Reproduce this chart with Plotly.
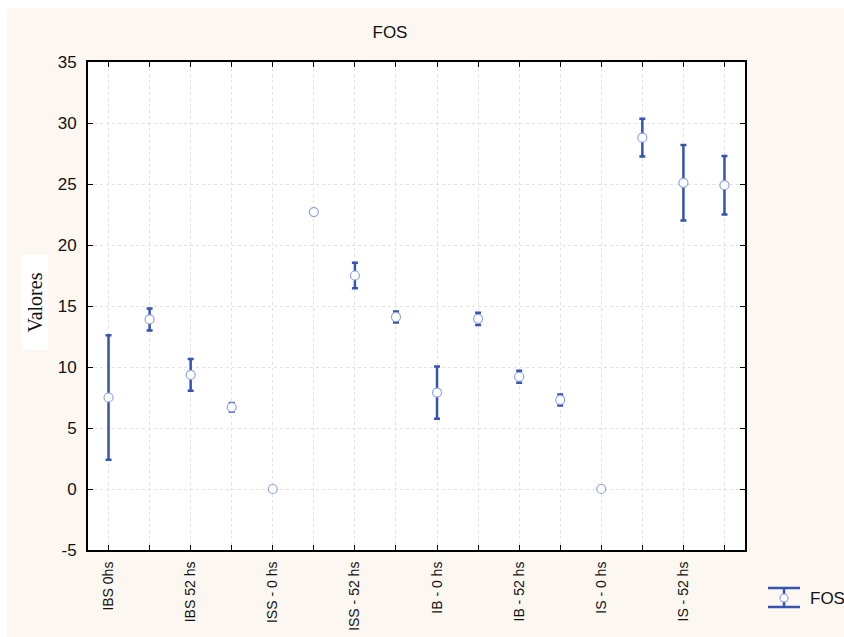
import plotly.graph_objects as go

labels = ["IBS 0hs", "", "IBS 52 hs", "", "ISS - 0 hs", "", "ISS - 52 hs", "",
          "IB - 0 hs", "", "IB - 52 hs", "", "IS - 0 hs", "", "IS - 52 hs", ""]
means = [7.5, 13.9, 9.35, 6.7, 0.0, 22.7, 17.5, 14.1, 7.9, 13.95, 9.2, 7.3, 0.0, 28.8, 25.1, 24.9]
errors = [5.1, 0.9, 1.3, 0.35, 0.0, 0.0, 1.05, 0.45, 2.15, 0.5, 0.5, 0.45, 0.0, 1.55, 3.1, 2.4]
yticks = [-5, 0, 5, 10, 15, 20, 25, 30, 35]
ytick_text = ["-5", "0", "5", "10", "15", "20", "25", "30", "35"]

xpos = list(range(len(means)))
bar_color = "#3553B0"
font_main = "Liberation Sans Narrow, Liberation Sans, Arial, sans-serif"

fig = go.Figure()
fig.add_trace(go.Scatter(
    x=xpos, y=means, mode="markers", name="FOS", showlegend=False,
    marker=dict(symbol="circle", size=9, color="white",
                line=dict(color="#8FA3E6", width=1.2)),
    error_y=dict(type="data", array=errors, visible=True, color=bar_color,
                 thickness=2.5, width=3),
))

fig.update_layout(
    width=844, height=637,
    margin=dict(l=88, r=99, t=62, b=87, autoexpand=False),
    paper_bgcolor="#FCF8F1",
    plot_bgcolor="white",
    title=dict(text="FOS", x=390 / 844, xanchor="center", y=1 - 32 / 637, yanchor="middle",
               font=dict(family=font_main, size=17, color="#111")),
    xaxis=dict(range=[-0.5, 15.5], tickmode="array", tickvals=xpos, ticktext=labels,
               tickangle=-90, ticks="inside", ticklen=5, tickcolor="black",
               ticklabelstandoff=4, automargin=False,
               showline=True, linecolor="black", linewidth=2, mirror="allticks",
               showgrid=True, gridcolor="#E2E2E2", griddash="dot", gridwidth=1,
               zeroline=False, tickfont=dict(family=font_main, size=14, color="#111")),
    yaxis=dict(range=[-5, 35], tickmode="array", tickvals=yticks, ticktext=ytick_text,
               ticks="inside", ticklen=5, tickcolor="black",
               ticklabelstandoff=6, automargin=False,
               showline=True, linecolor="black", linewidth=2, mirror="allticks",
               showgrid=True, gridcolor="#E2E2E2", griddash="dot", gridwidth=1,
               zeroline=False, tickfont=dict(family=font_main, size=17, color="#111")),
    shapes=[
        # white page strips (top and left)
        dict(type="rect", xref="paper", yref="paper", x0=-0.14, x1=1.16,
             y0=(550 - 8) / 488, y1=1.14, fillcolor="white", line=dict(width=0), layer="below"),
        dict(type="rect", xref="paper", yref="paper", x0=-0.14, x1=(7 - 88) / 657,
             y0=-0.2, y1=1.14, fillcolor="white", line=dict(width=0), layer="below"),
        # white box behind axis title
        dict(type="rect", xref="paper", yref="paper", x0=-0.1005, x1=-0.0609,
             y0=0.4098, y1=0.6045, fillcolor="white", line=dict(width=0), layer="below"),
        # legend symbol
        dict(type="line", xref="paper", yref="paper", x0=1.035, x1=1.0837, y0=-0.0779, y1=-0.0779,
             line=dict(color=bar_color, width=2.5)),
        dict(type="line", xref="paper", yref="paper", x0=1.035, x1=1.0837, y0=-0.1168, y1=-0.1168,
             line=dict(color=bar_color, width=2.5)),
        dict(type="line", xref="paper", yref="paper", x0=1.0594, x1=1.0594, y0=-0.0779, y1=-0.1168,
             line=dict(color=bar_color, width=2.5)),
        dict(type="circle", xref="paper", yref="paper", x0=1.0594 - 0.0061, x1=1.0594 + 0.0061,
             y0=-0.0984 - 0.0082, y1=-0.0984 + 0.0082, fillcolor="white",
             line=dict(color="#8FA3E6", width=1.2)),
    ],
    annotations=[
        dict(text="Valores", xref="paper", yref="paper", x=-0.0807, y=0.507, textangle=-90,
             showarrow=False, xanchor="center", yanchor="middle",
             font=dict(family="Liberation Serif, Times New Roman, serif", size=20, color="#111")),
        dict(text="FOS", xref="paper", yref="paper", x=1.0959, y=-0.0984, showarrow=False,
             xanchor="left", yanchor="middle",
             font=dict(family=font_main, size=17, color="#111")),
    ],
)

fig.write_html("out.html")
